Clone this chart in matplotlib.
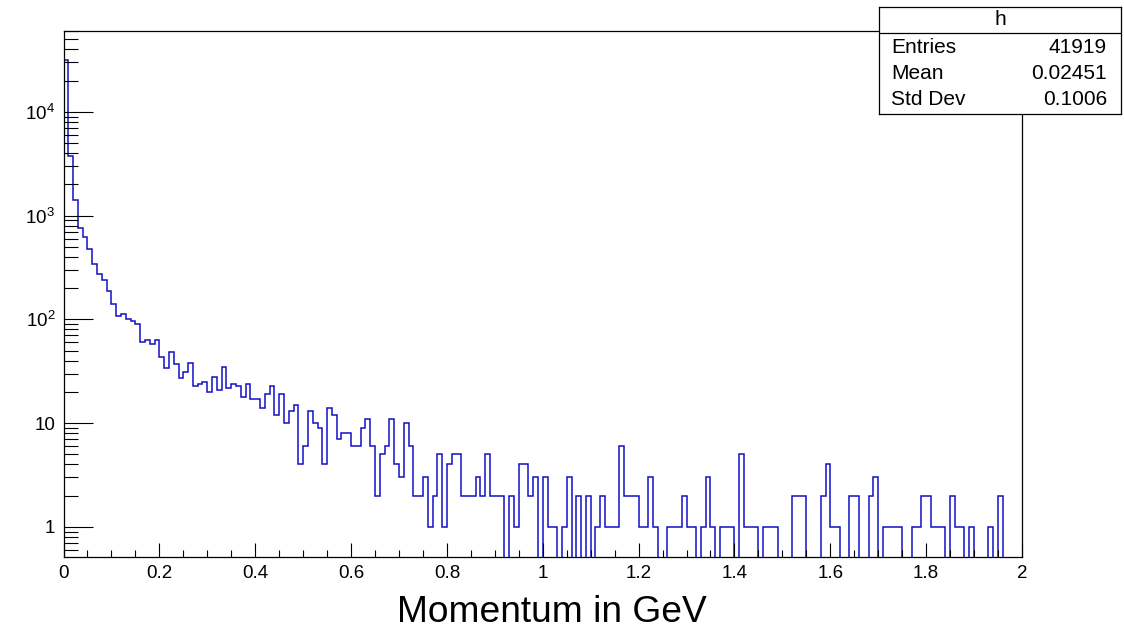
import numpy as np
import matplotlib
matplotlib.use("Agg")
import matplotlib.pyplot as plt
from matplotlib.ticker import (FixedLocator, FixedFormatter, MultipleLocator,
                               LogLocator, NullFormatter)

plt.rcParams['font.family'] = ['Liberation Sans', 'DejaVu Sans']
plt.rcParams['mathtext.default'] = 'regular'

# histogram "h": momentum, 200 bins from 0 to 2 GeV
n_bins = 200
p_min, p_max = 0.0, 2.0
counts = [
    31300, 3725, 1400, 760, 618, 481, 342, 272, 242, 188,
    142, 107, 112, 100, 96, 91, 60, 63, 58, 63,
    43, 34, 48, 37, 27, 31, 38, 23, 24, 25,
    20, 28, 21, 35, 22, 24, 23, 18, 24, 17,
    17, 14, 19, 23, 12, 19, 10, 13, 15, 4,
    6, 13, 10, 9, 4, 14, 12, 7, 8, 8,
    6, 6, 9, 11, 6, 2, 5, 6, 11, 4,
    3, 10, 6, 2, 2, 3, 1, 2, 5, 1,
    4, 5, 5, 2, 2, 2, 3, 2, 5, 2,
    2, 2, 0, 2, 1, 4, 4, 2, 3, 0,
    3, 1, 1, 0, 1, 3, 0, 2, 0, 2,
    0, 1, 2, 1, 1, 1, 6, 2, 2, 2,
    1, 1, 3, 1, 0, 0, 1, 1, 1, 2,
    1, 1, 0, 1, 3, 1, 0, 1, 1, 1,
    0, 5, 1, 1, 1, 0, 1, 1, 1, 0,
    0, 0, 2, 2, 2, 0, 0, 0, 2, 4,
    1, 1, 0, 0, 2, 2, 0, 0, 2, 3,
    0, 1, 1, 1, 1, 0, 0, 1, 1, 2,
    2, 1, 1, 1, 0, 2, 1, 1, 0, 1,
    0, 0, 0, 1, 0, 2, 0, 0, 0, 0,
]

stat_names = ['Entries', 'Mean', 'Std Dev']
stat_values = ['41919', '0.02451', '0.1006']

x_ticks = [0, 0.2, 0.4, 0.6, 0.8, 1.0, 1.2, 1.4, 1.6, 1.8, 2.0]
x_tick_labels = ['0', '0.2', '0.4', '0.6', '0.8', '1', '1.2', '1.4', '1.6', '1.8', '2']
y_ticks = [1, 10, 100, 1000, 10000]
y_tick_labels = ['1', '10', '$10^{2}$', '$10^{3}$', '$10^{4}$']

W, H = 1124, 630
fig = plt.figure(figsize=(W / 100, H / 100), dpi=100)

ax = fig.add_axes([63.5 / W, 1 - 557 / H, (1022 - 63.5) / W, (557 - 31) / H])
edges = np.linspace(p_min, p_max, n_bins + 1)
vals = np.asarray(counts, dtype=float)
# empty bins drop to the bottom of the frame on a log axis
vals = np.where(vals > 0, vals, 1e-3)
ax.stairs(vals, edges, baseline=1e-3, color='#1010c8', lw=1.1)

ax.set_yscale('log')
ax.set_xlim(p_min, p_max)
ax.set_ylim(0.514, 6.0e4)

ax.xaxis.set_major_locator(FixedLocator(x_ticks))
ax.xaxis.set_major_formatter(FixedFormatter(x_tick_labels))
ax.xaxis.set_minor_locator(MultipleLocator(0.05))
ax.yaxis.set_major_locator(FixedLocator(y_ticks))
ax.yaxis.set_major_formatter(FixedFormatter(y_tick_labels))
ax.yaxis.set_minor_locator(LogLocator(base=10, subs=np.arange(2, 10) * 1.0, numticks=30))
ax.yaxis.set_minor_formatter(NullFormatter())

ax.tick_params(which='both', direction='in', top=False, right=False,
               labelsize=13.5, width=0.8, color='black')
ax.tick_params(axis='y', which='major', length=21, pad=6)
ax.tick_params(axis='y', which='minor', length=10)
ax.tick_params(axis='x', which='major', length=10, pad=6)
ax.tick_params(axis='x', which='minor', length=5)
for s in ax.spines.values():
    s.set_linewidth(0.9)
    s.set_color('black')

fig.text(552 / W, 1 - 613 / H, 'Momentum in GeV', fontsize=26.7,
         ha='center', va='center')

# stats box
sb = fig.add_axes([879 / W, 1 - 114 / H, 242 / W, 107 / H], zorder=5)
sb.set_facecolor('white')
sb.set_xticks([])
sb.set_yticks([])
sb.set_xlim(0, 1)
sb.set_ylim(0, 1)
for s in sb.spines.values():
    s.set_linewidth(0.9)
    s.set_color('black')
sb.axhline(0.757, color='black', lw=0.9)
sb.text(0.5, 0.879, 'h', ha='center', va='center', fontsize=15)
for name, val, y in zip(stat_names, stat_values, [0.617, 0.374, 0.131]):
    sb.text(0.05, y, name, ha='left', va='center', fontsize=15)
    sb.text(0.942, y, val, ha='right', va='center', fontsize=15)

fig.savefig('out.png', dpi=100)
